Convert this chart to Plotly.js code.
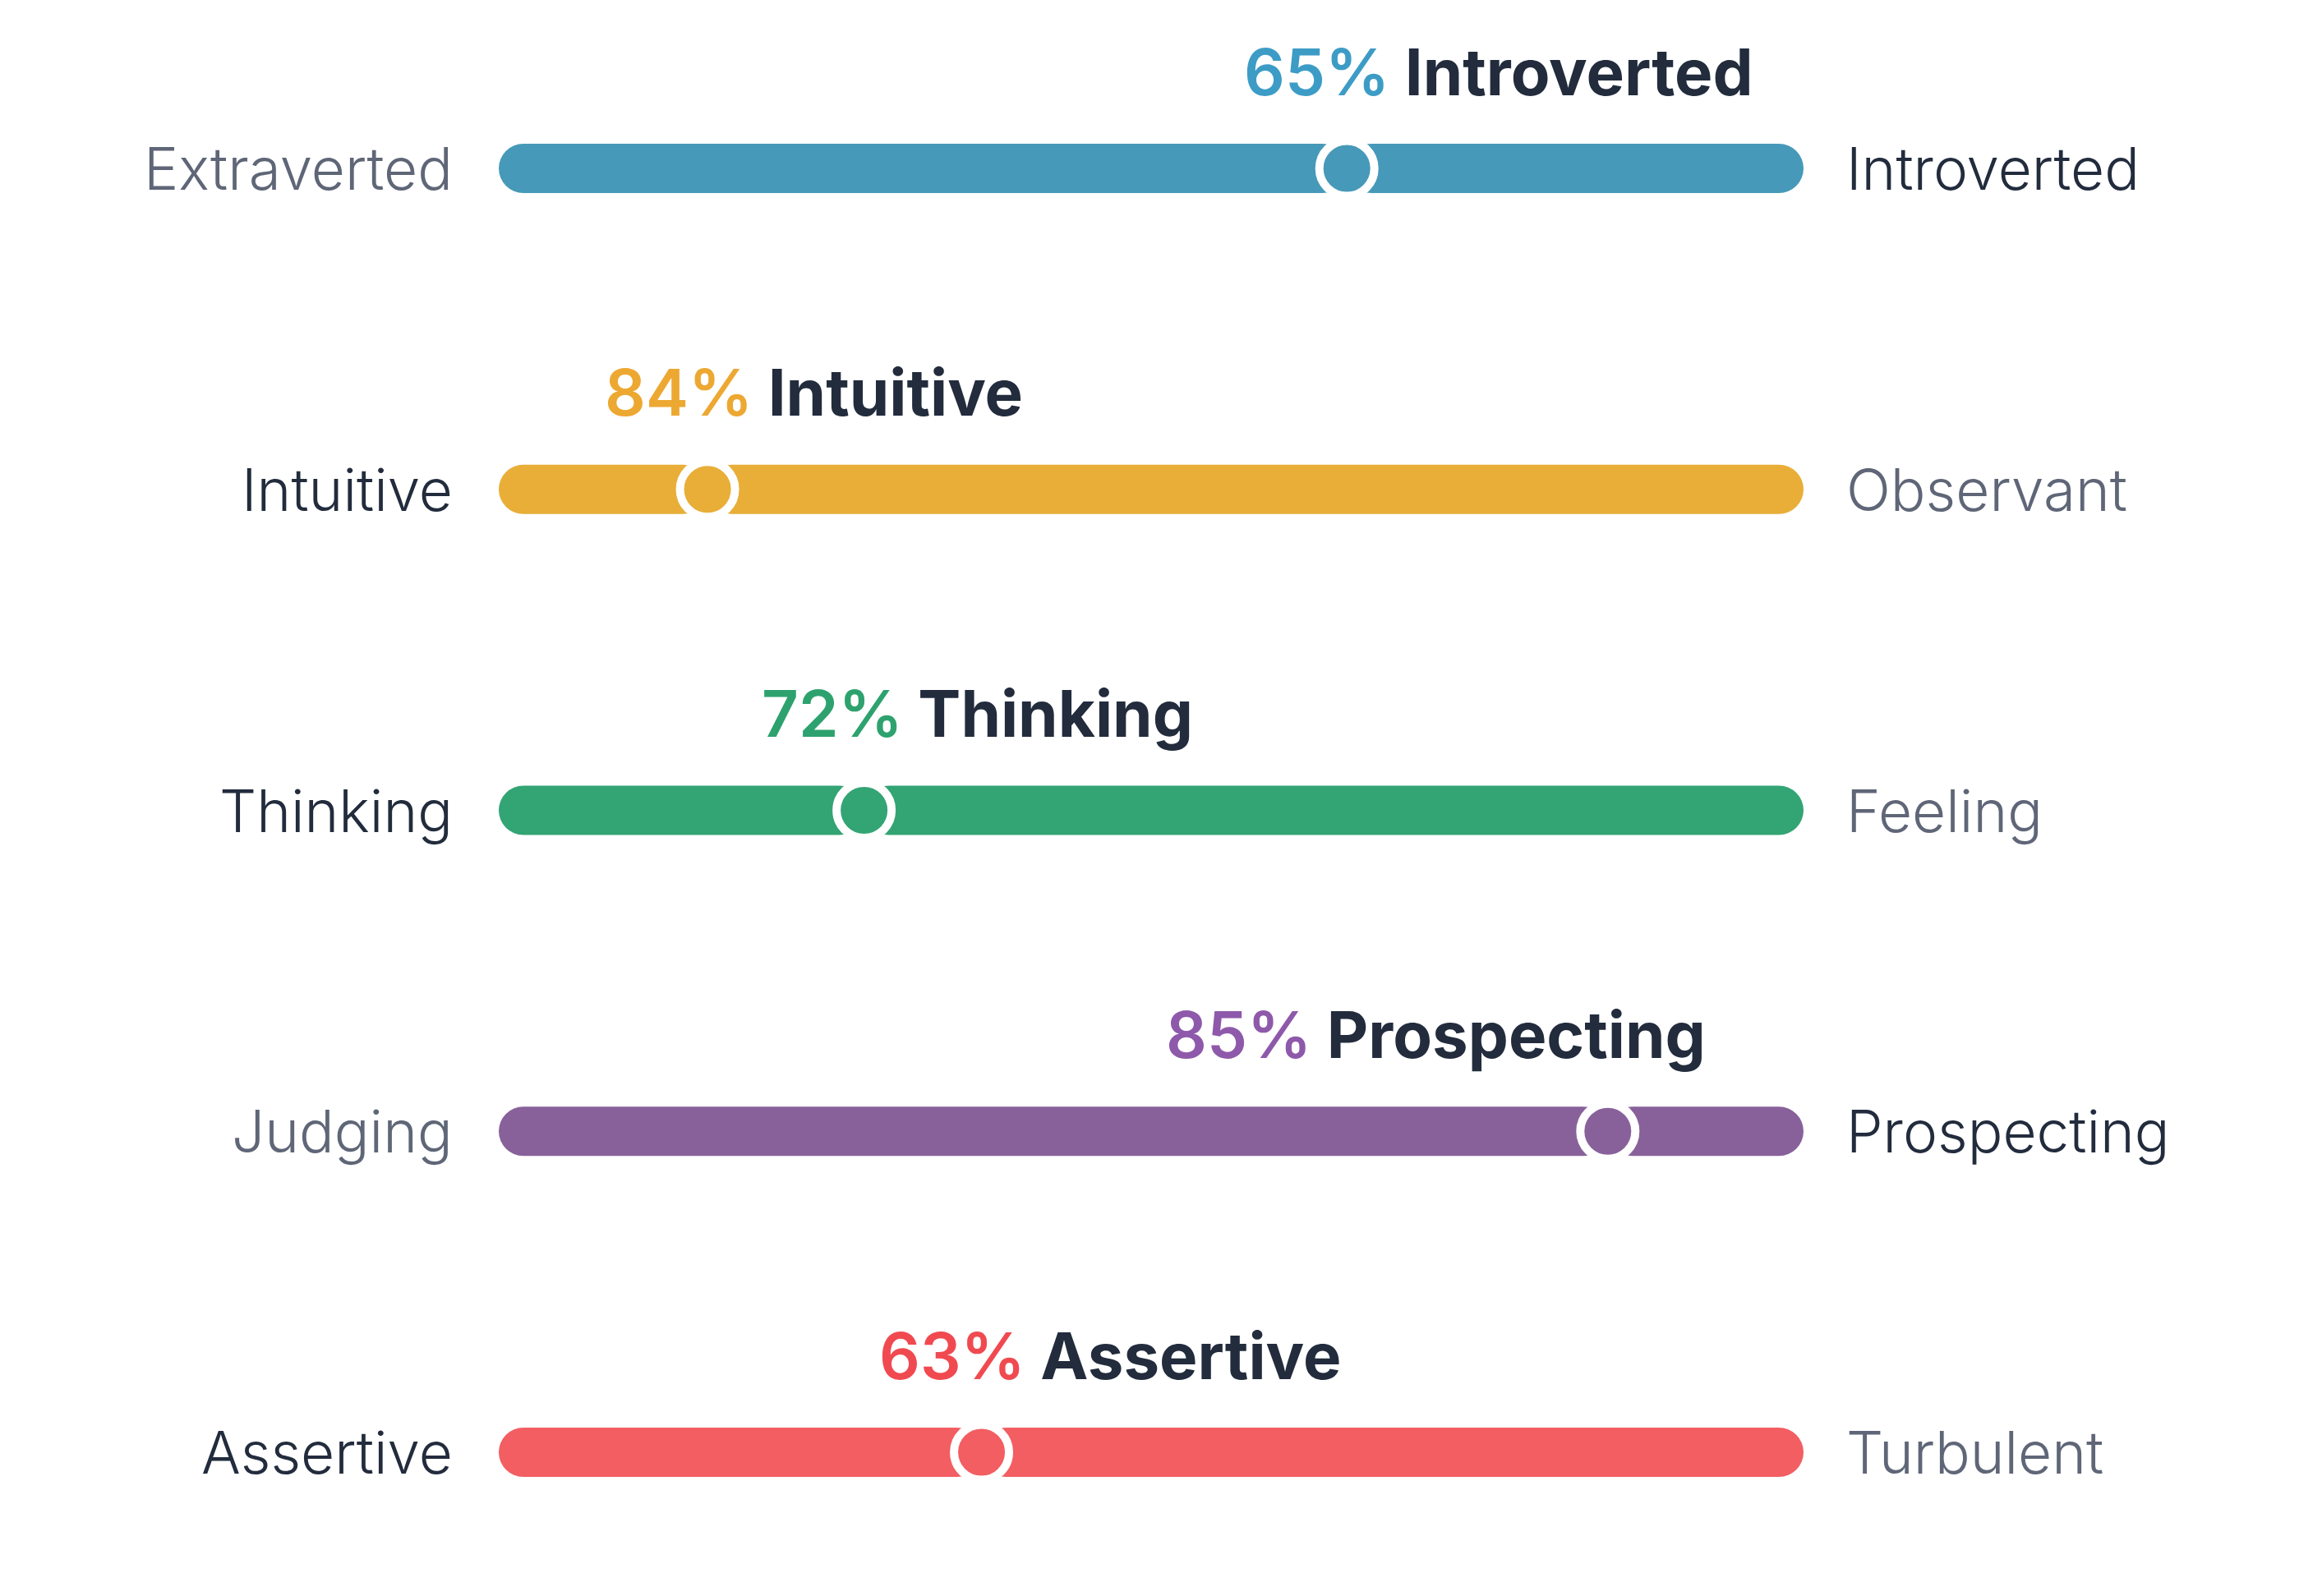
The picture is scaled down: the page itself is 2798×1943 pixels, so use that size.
<!DOCTYPE html>
<html>
<head>
<meta charset="utf-8">
<script src="https://cdn.plot.ly/plotly-3.0.1.min.js"></script>
<style>html,body{margin:0;padding:0;background:#fff;}#chart{width:2798px;height:1943px;}</style>
</head>
<body>
<div id="chart"></div>
<script>
// ---- data ----
const leftTraits  = ['Extraverted', 'Intuitive', 'Thinking', 'Judging', 'Assertive'];
const rightTraits = ['Introverted', 'Observant', 'Feeling', 'Prospecting', 'Turbulent'];
const dominantTraits = ['Introverted', 'Intuitive', 'Thinking', 'Prospecting', 'Assertive'];
const percents = [65, 84, 72, 85, 63];

// ---- styles ----
const barColors = ['#4699b8', '#e8ae37', '#33a474', '#88619a', '#f25e62'];
const pctColors = ['#3d9cc6', '#eda832', '#2ea26e', '#8e59aa', '#f04a50'];
const darkText = '#222c3d';
const grayText = '#5f6677';
const FONT = 'Inter, "Open Sans", Roboto, sans-serif';

const W = 2798, H = 1943;
const trackLeftPx = 607, trackRightPx = 2195;
const row0Px = 205, rowStepPx = 390.75;
const pxPerUnit = (trackRightPx - trackLeftPx) / 100;
const xRange = [-trackLeftPx / pxPerUnit, 100 + (W - trackRightPx) / pxPerUnit];
const yRange = [(H - row0Px) / rowStepPx, -row0Px / rowStepPx];
const barThickPx = 60;
const barWidthY = barThickPx / rowStepPx;

const rows = leftTraits.map((_, i) => i);
// position of marker measured from left end of the track (0..100)
const positions = percents.map((p, i) => dominantTraits[i] === rightTraits[i] ? p : 100 - p);

const leftSeg = {
  type: 'bar', orientation: 'h',
  y: rows, base: positions, x: positions.map(p => -p),
  width: rows.map(() => barWidthY),
  marker: {color: barColors, cornerradius: 30, line: {width: 0}},
  hoverinfo: 'skip', showlegend: false
};
const rightSeg = {
  type: 'bar', orientation: 'h',
  y: rows, base: positions, x: positions.map(p => 100 - p),
  width: rows.map(() => barWidthY),
  marker: {color: barColors, cornerradius: 30, line: {width: 0}},
  hoverinfo: 'skip', showlegend: false
};
const knobs = {
  type: 'scatter', mode: 'markers',
  x: positions, y: rows,
  marker: {size: 67, color: barColors, line: {color: '#ffffff', width: 10}},
  hoverinfo: 'skip', showlegend: false, cliponaxis: false
};

const annotations = [];
rows.forEach(i => {
  const leftDom = dominantTraits[i] === leftTraits[i];
  annotations.push({
    x: 0, y: i, xref: 'x', yref: 'y', xanchor: 'right', yanchor: 'middle',
    xshift: -54, yshift: 0, showarrow: false, text: leftTraits[i],
    font: {family: FONT, size: 71, color: leftDom ? darkText : grayText, weight: 300}
  });
  annotations.push({
    x: 100, y: i, xref: 'x', yref: 'y', xanchor: 'left', yanchor: 'middle',
    xshift: 50, yshift: 0, showarrow: false, text: rightTraits[i],
    font: {family: FONT, size: 71, color: leftDom ? grayText : darkText, weight: 300}
  });
  const nearEnd = positions[i] > 75;
  annotations.push({
    x: positions[i], y: i, xref: 'x', yref: 'y',
    xanchor: nearEnd ? 'right' : 'left', yanchor: 'middle',
    xshift: nearEnd ? 121 : -127, yshift: 118, showarrow: false,
    text: '<span style="color:' + pctColors[i] + ';font-weight:600">' + percents[i] + '%</span> ' + dominantTraits[i],
    font: {family: FONT, size: 78, color: darkText, weight: 700}
  });
});

const layout = {
  width: W, height: H,
  margin: {l: 0, r: 0, t: 0, b: 0, pad: 0},
  paper_bgcolor: '#ffffff', plot_bgcolor: '#ffffff',
  barmode: 'overlay',
  xaxis: {range: xRange, visible: false, fixedrange: true},
  yaxis: {range: yRange, visible: false, fixedrange: true},
  annotations: annotations,
  showlegend: false
};

Plotly.newPlot('chart', [leftSeg, rightSeg, knobs], layout, {displayModeBar: false, staticPlot: true});
</script>
</body>
</html>
